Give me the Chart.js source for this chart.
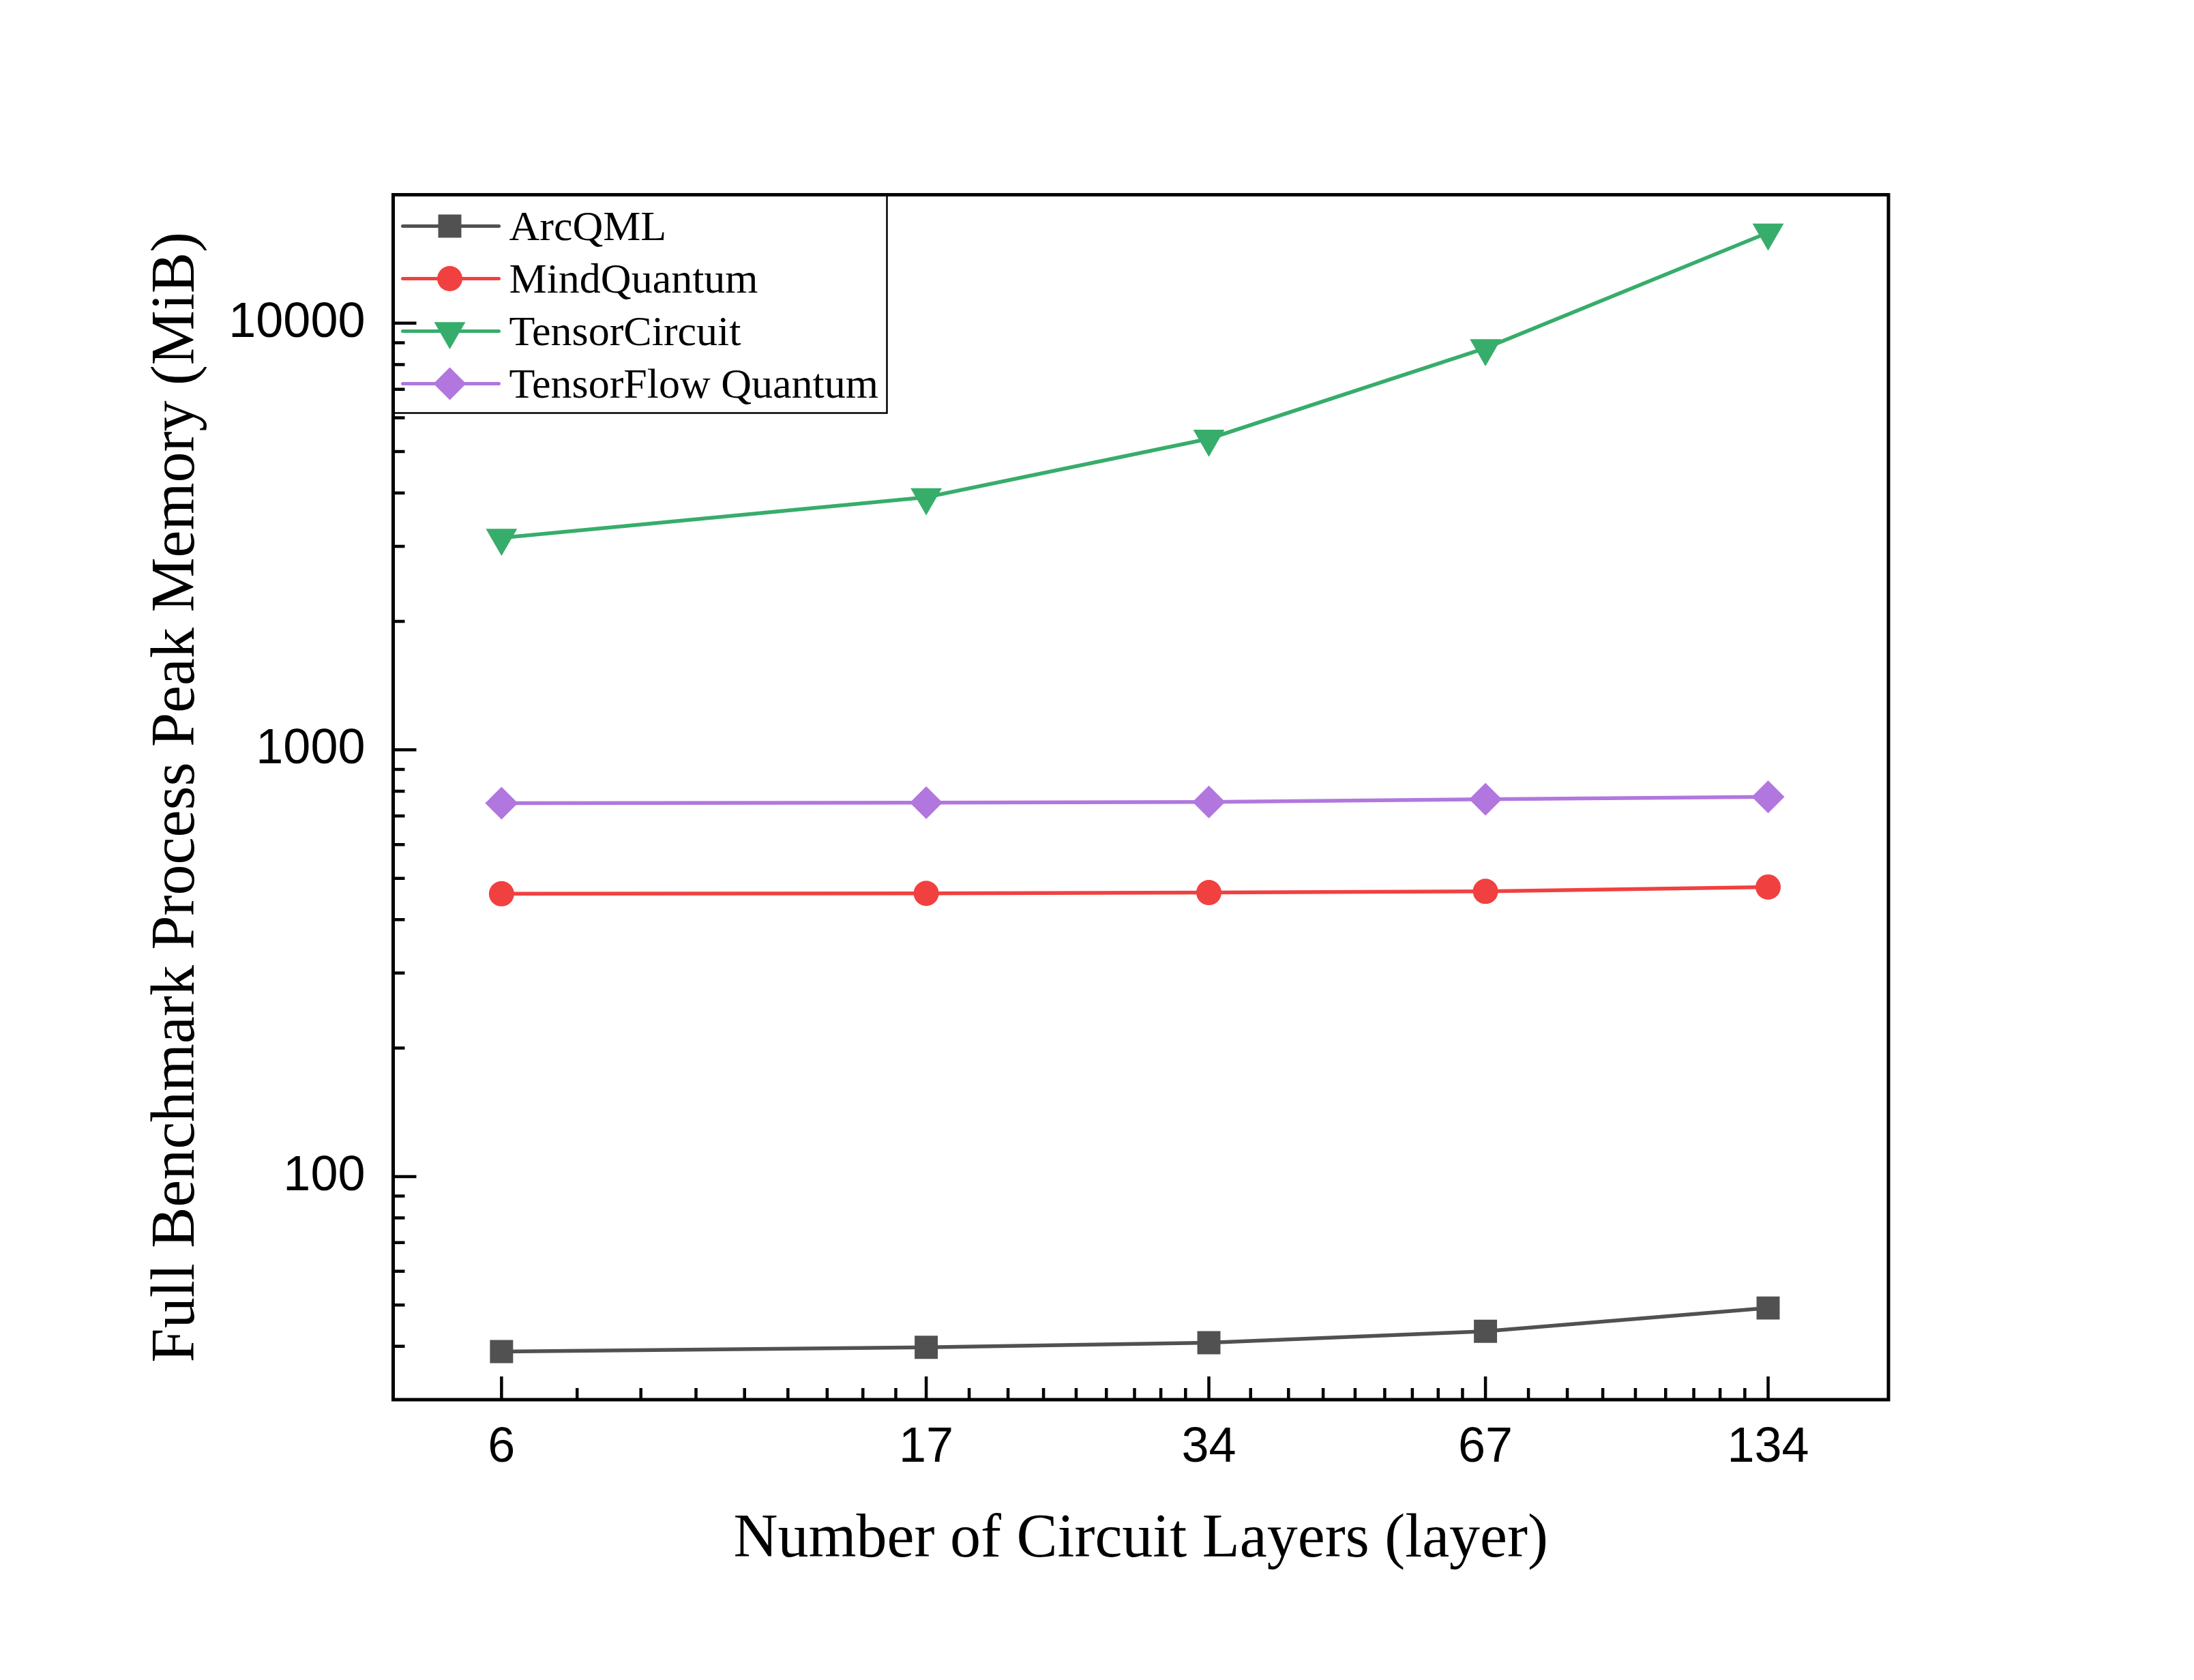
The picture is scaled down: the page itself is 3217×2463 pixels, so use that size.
<!DOCTYPE html>
<html>
<head>
<meta charset="utf-8">
<script src="https://cdn.jsdelivr.net/npm/chart.js@4.4.1/dist/chart.umd.min.js"></script>
<style>
  html, body { margin: 0; padding: 0; background: #fff; }
  canvas { display: block; }
</style>
</head>
<body>
<canvas id="chart" width="3217" height="2463" style="width:3217px;height:2463px"></canvas>
<script>
'use strict';

// ── dados ───────────────────────────────────────────────────────────────────
const LAYERS         = [6, 17, 34, 67, 134];
const ARCQML         = [38.9, 39.8, 40.8, 43.4, 49.2];
const MINDQUANTUM    = [460, 461, 463, 466, 477];
const TENSORCIRCUIT  = [3140, 3910, 5360, 8740, 16300];
const TFQ            = [750, 752, 755, 766, 776];
const SERIES_NAMES   = ['ArcQML', 'MindQuantum', 'TensorCircuit', 'TensorFlow Quantum'];

const X_TICKS = [6, 17, 34, 67, 134];
const Y_TICKS = [100, 1000, 10000];
const Y_MINOR = [40, 50, 60, 70, 80, 90, 200, 300, 400, 500, 600, 700, 800, 900,
                 2000, 3000, 4000, 5000, 6000, 7000, 8000, 9000];

// ── paleta ──────────────────────────────────────────────────────────────────
const COLOR_GRAY   = '#515151';
const COLOR_RED    = '#F14040';
const COLOR_GREEN  = '#37AD6B';
const COLOR_PURPLE = '#B177DE';

const SERIF = '"Liberation Serif", "Times New Roman", serif';
const SANS  = '"Liberation Sans", Arial, sans-serif';

function pts(arr) {
    return LAYERS.map((l, i) => ({ x: l, y: arr[i] }));
}

// 8 minor ticks, linear spacing between each pair of majors (Origin style)
function xMinor() {
    const out = [];
    for (let i = 0; i < X_TICKS.length - 1; i++) {
        const a = X_TICKS[i], b = X_TICKS[i + 1];
        for (let k = 1; k <= 8; k++) out.push(a + k * (b - a) / 9);
    }
    return out;
}

function serie(label, arr, color, style, radius, rotation) {
    return {
        label,
        data: pts(arr),
        borderColor: color,
        backgroundColor: color,
        borderWidth: 5.5,
        pointStyle: style,
        pointRadius: radius,
        pointRotation: rotation || 0,
        pointBackgroundColor: color,
        pointBorderColor: color,
        pointBorderWidth: 0,
        tension: 0,
    };
}

const DATASETS = [
    serie(SERIES_NAMES[0], ARCQML,        COLOR_GRAY,   'rect',     24),
    serie(SERIES_NAMES[1], MINDQUANTUM,   COLOR_RED,    'circle',   18.5),
    serie(SERIES_NAMES[2], TENSORCIRCUIT, COLOR_GREEN,  'triangle', 26.5, 180),
    serie(SERIES_NAMES[3], TFQ,           COLOR_PURPLE, 'rectRot',  24),
];

// ── moldura, ticks internos e legenda ───────────────────────────────────────
const framePlugin = {
    id: 'frame',
    afterDraw(chart) {
        const ctx = chart.ctx;
        const { left, right, top, bottom } = chart.chartArea;
        const xs = chart.scales.x, ys = chart.scales.y;

        // legenda
        const boxR = left + 724, boxB = top + 320;
        ctx.save();
        ctx.fillStyle = '#fff';
        ctx.fillRect(left, top, boxR - left, boxB - top);
        ctx.strokeStyle = '#000';
        ctx.lineWidth = 2.5;
        ctx.strokeRect(left, top, boxR - left, boxB - top);

        DATASETS.forEach((ds, i) => {
            const cy = top + 46 + i * 77;
            ctx.strokeStyle = ds.borderColor;
            ctx.lineWidth = 5;
            ctx.lineCap = 'round';
            ctx.beginPath();
            ctx.moveTo(left + 14, cy);
            ctx.lineTo(left + 155, cy);
            ctx.stroke();
            ctx.fillStyle = ds.borderColor;
            Chart.helpers.drawPoint(ctx, {
                pointStyle: ds.pointStyle,
                radius: ds.pointRadius,
                rotation: ds.pointRotation,
                borderWidth: 0,
            }, left + 83, cy);
            ctx.fillStyle = '#000';
            ctx.font = '62px ' + SERIF;
            ctx.textAlign = 'left';
            ctx.textBaseline = 'alphabetic';
            ctx.fillText(ds.label, left + 170, cy + 20);
        });

        // ticks
        ctx.strokeStyle = '#000';
        ctx.lineCap = 'butt';
        ctx.lineWidth = 4.5;
        ctx.beginPath();
        X_TICKS.forEach(v => {
            const px = xs.getPixelForValue(v);
            ctx.moveTo(px, bottom); ctx.lineTo(px, bottom - 34);
        });
        xMinor().forEach(v => {
            const px = xs.getPixelForValue(v);
            ctx.moveTo(px, bottom); ctx.lineTo(px, bottom - 17);
        });
        Y_TICKS.forEach(v => {
            const py = ys.getPixelForValue(v);
            ctx.moveTo(left, py); ctx.lineTo(left + 34, py);
        });
        Y_MINOR.forEach(v => {
            const py = ys.getPixelForValue(v);
            ctx.moveTo(left, py); ctx.lineTo(left + 17, py);
        });
        ctx.stroke();

        // moldura
        ctx.lineWidth = 5;
        ctx.strokeRect(left, top, right - left, bottom - top);
        ctx.restore();
    },
};

// ── init ────────────────────────────────────────────────────────────────────
new Chart(document.getElementById('chart'), {
    type: 'line',
    data: { datasets: DATASETS },
    options: {
        responsive: false,
        animation: false,
        devicePixelRatio: 1,
        layout: { padding: { left: 0, top: 285.5, right: 448, bottom: 0 } },
        plugins: { legend: { display: false }, tooltip: { enabled: false } },
        scales: {
            x: {
                type: 'logarithmic',
                min: 4.6,
                max: 180,
                bounds: 'data',
                afterBuildTicks: s => { s.ticks = X_TICKS.map(v => ({ value: v })); },
                afterFit: s => { s.height = 411; },
                grid: { display: false, drawTicks: false },
                border: { display: false },
                ticks: {
                    autoSkip: false,
                    maxRotation: 0,
                    padding: 28,
                    color: '#000',
                    font: { family: SANS, size: 72 },
                    callback: v => String(v),
                },
                title: {
                    display: true,
                    text: 'Number of Circuit Layers (layer)',
                    color: '#000',
                    font: { family: SERIF, size: 90 },
                    padding: { top: 0, bottom: 151 },
                },
            },
            y: {
                type: 'logarithmic',
                min: 30,
                max: 20000,
                bounds: 'data',
                afterBuildTicks: s => { s.ticks = Y_TICKS.map(v => ({ value: v })); },
                afterFit: s => { s.width = 576.5; },
                grid: { display: false, drawTicks: false },
                border: { display: false },
                ticks: {
                    autoSkip: false,
                    padding: 41,
                    color: '#000',
                    font: { family: SANS, size: 72 },
                    callback: v => String(v),
                },
                title: {
                    display: true,
                    text: 'Full Benchmark Process Peak Memory (MiB)',
                    color: '#000',
                    font: { family: SERIF, size: 90 },
                    padding: { top: 206, bottom: 0 },
                },
            },
        },
    },
    plugins: [framePlugin],
});
</script>
</body>
</html>
